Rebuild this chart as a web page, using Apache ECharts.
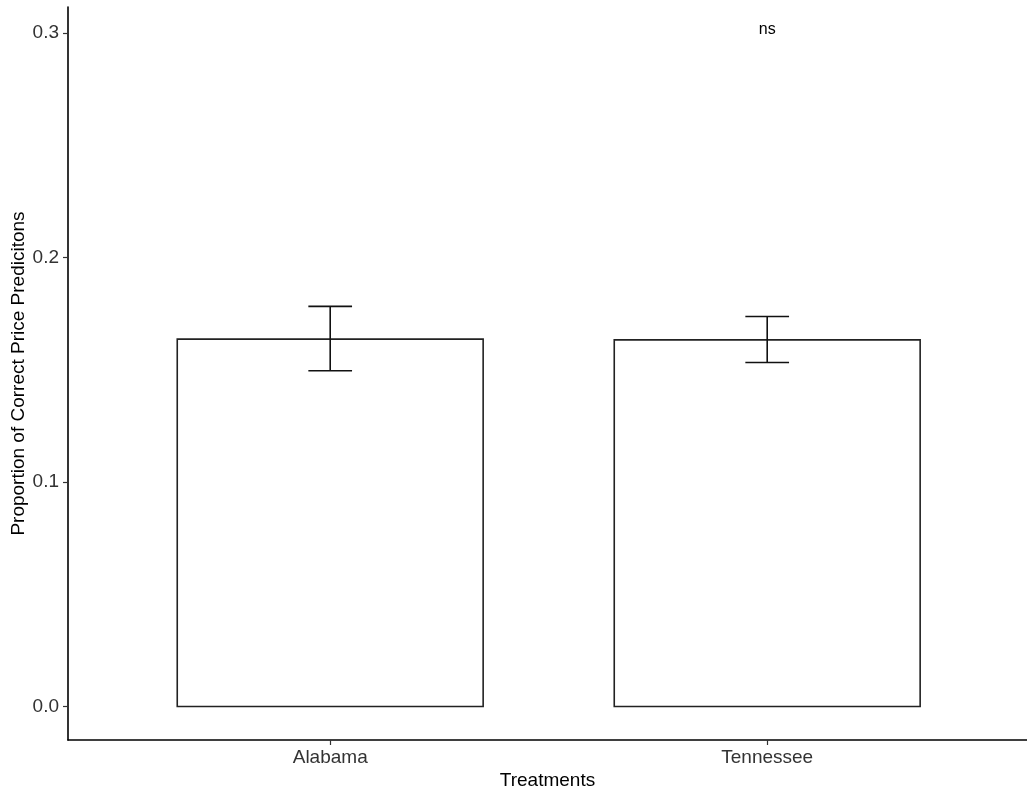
<!DOCTYPE html>
<html>
<head>
<meta charset="utf-8">
<script src="https://cdn.jsdelivr.net/npm/echarts@6/dist/echarts.min.js"></script>
<style>html,body{margin:0;padding:0;background:#fff;}#c{width:1027px;height:788px;}</style>
</head>
<body>
<div id="c"></div>
<script>
var categories = ['Alabama', 'Tennessee'];
var means = [0.1637, 0.1634];
var lowers = [0.1496, 0.1533];
var uppers = [0.1783, 0.1738];
var yTicks = [0.0, 0.1, 0.2, 0.3];
var annotationText = 'ns';
var annotationY = 0.3018;

var positions = categories.map(function (c, i) { return i + 1; });
var barData = positions.map(function (p, i) { return [p, means[i]]; });
var errData = positions.map(function (p, i) { return [p, lowers[i], uppers[i]]; });

var FONT = '"Liberation Sans", Arial, sans-serif';
var chart = echarts.init(document.getElementById('c'));
chart.setOption({
  backgroundColor: '#fff',
  animation: false,
  grid: { left: 68, right: 0, top: 7, bottom: 48, containLabel: false, outerBoundsMode: 'none' },
  xAxis: {
    type: 'value',
    min: 0.4,
    max: 0.4 + 959 / 437,
    name: 'Treatments',
    nameLocation: 'middle',
    nameGap: 31,
    nameMoveOverlap: false,
    nameTextStyle: { fontFamily: FONT, fontSize: 19, color: '#000' },
    axisLine: { show: true, onZero: false, lineStyle: { color: '#000', width: 1.6 } },
    axisTick: { show: true, customValues: positions, length: 5, lineStyle: { color: '#333', width: 1.2 } },
    axisLabel: {
      customValues: positions, margin: 8, fontFamily: FONT, fontSize: 19, color: '#333',
      formatter: function (v) { return categories[Math.round(v) - 1] || ''; }
    },
    splitLine: { show: false }
  },
  yAxis: {
    type: 'value',
    min: -0.0149,
    max: 0.3117,
    name: 'Proportion of Correct Price Predicitons',
    nameLocation: 'middle',
    nameGap: 40,
    nameMoveOverlap: false,
    nameTextStyle: { fontFamily: FONT, fontSize: 19, color: '#000' },
    axisLine: { show: true, onZero: false, lineStyle: { color: '#000', width: 1.6 } },
    axisTick: { show: true, customValues: yTicks, length: 5, lineStyle: { color: '#333', width: 1.2 } },
    axisLabel: {
      customValues: yTicks, margin: 9, fontFamily: FONT, fontSize: 19, color: '#333',
      formatter: function (v) { return v.toFixed(1); }
    },
    splitLine: { show: false }
  },
  series: [
    {
      type: 'custom',
      data: barData,
      renderItem: function (params, api) {
        var top = api.coord([api.value(0), api.value(1)]);
        var base = api.coord([api.value(0), 0]);
        var w = api.size([0.7, 0])[0];
        return {
          type: 'rect',
          shape: { x: top[0] - w / 2, y: top[1], width: w, height: base[1] - top[1] },
          style: { fill: '#fff', stroke: '#222', lineWidth: 1.6 }
        };
      },
      z: 2
    },
    {
      type: 'custom',
      data: errData,
      renderItem: function (params, api) {
        var lo = api.coord([api.value(0), api.value(1)]);
        var hi = api.coord([api.value(0), api.value(2)]);
        var cw = api.size([0.1, 0])[0];
        var st = { stroke: '#111', lineWidth: 1.6 };
        return {
          type: 'group',
          children: [
            { type: 'line', shape: { x1: lo[0], y1: lo[1], x2: hi[0], y2: hi[1] }, style: st },
            { type: 'line', shape: { x1: lo[0] - cw / 2, y1: lo[1], x2: lo[0] + cw / 2, y2: lo[1] }, style: st },
            { type: 'line', shape: { x1: hi[0] - cw / 2, y1: hi[1], x2: hi[0] + cw / 2, y2: hi[1] }, style: st }
          ]
        };
      },
      z: 3
    },
    {
      type: 'custom',
      data: [[positions[1], annotationY]],
      renderItem: function (params, api) {
        var p = api.coord([api.value(0), api.value(1)]);
        return {
          type: 'text',
          style: { x: p[0], y: p[1], text: annotationText, textAlign: 'center', textVerticalAlign: 'middle',
            font: '16px ' + FONT, fill: '#000' }
        };
      },
      z: 4
    }
  ]
});
</script>
</body>
</html>
